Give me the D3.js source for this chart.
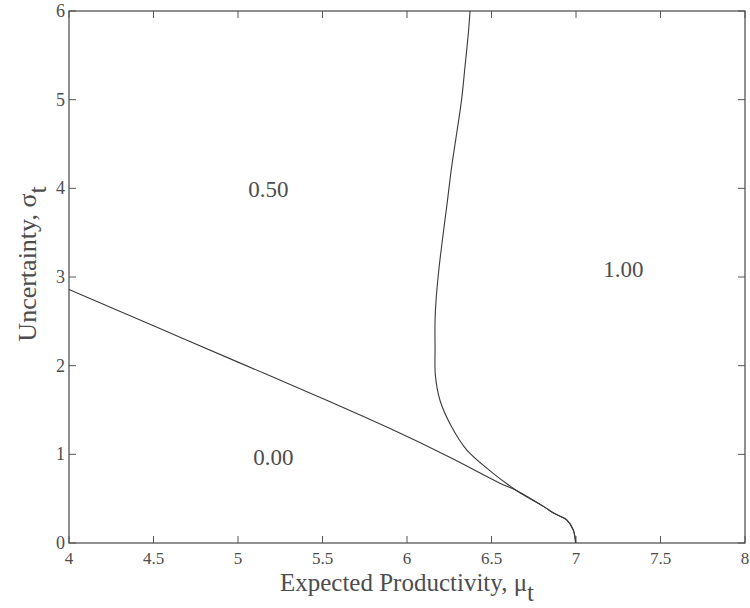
<!DOCTYPE html>
<html>
<head>
<meta charset="utf-8">
<script src="https://cdn.jsdelivr.net/npm/d3@7"></script>
<style>
  body { margin: 0; background: #fff; }
  text { font-family: "Liberation Serif", "Times New Roman", serif; fill: #4d4d4d; }
</style>
</head>
<body>
<div id="chart"></div>
<script>

// boundary between 0.00 and 0.50 regions (mu, sigma)
var lowerMu    = [4.00, 4.50, 5.00, 5.50, 5.90, 6.25, 6.55, 6.65, 6.81, 6.87, 6.945, 6.984, 6.998]
var lowerSigma = [2.86, 2.45, 2.04, 1.63, 1.29, 0.97, 0.675, 0.59, 0.41, 0.335, 0.26, 0.147, 0.0]

// boundary between 0.50 and 1.00 regions
var upperMu    = [6.373, 6.363, 6.343, 6.323, 6.294, 6.264, 6.240, 6.215, 6.190, 6.172, 6.166, 6.166, 6.168, 6.195, 6.264, 6.353, 6.510, 6.65, 6.81, 6.87, 6.945, 6.984, 6.998]
var upperSigma = [6.00, 5.75, 5.37, 5.00, 4.62, 4.24, 3.87, 3.50, 3.11, 2.74, 2.51, 2.20, 1.89, 1.61, 1.31, 1.05, 0.786, 0.59, 0.41, 0.335, 0.26, 0.147, 0.0]

var regionLabels = ["0.00", "0.50", "1.00"]
var regionMu     = [5.21, 5.18, 7.28]
var regionSigma  = [0.88, 3.90, 3.00]

var xTicks = [4, 4.5, 5, 5.5, 6, 6.5, 7, 7.5, 8]
var yTicks = [0, 1, 2, 3, 4, 5, 6]

var width = 750, height = 608
var margin = {left: 69, right: 5, top: 11, bottom: 65}

var svg = d3.select("#chart").append("svg")
  .attr("width", width)
  .attr("height", height)

var x = d3.scaleLinear().domain([4, 8]).range([margin.left, width - margin.right])
var y = d3.scaleLinear().domain([0, 6]).range([height - margin.bottom, margin.top])

var axisColor = "#555"
var tickLen = 7

// frame
svg.append("rect")
  .attr("x", x(4))
  .attr("y", y(6))
  .attr("width", x(8) - x(4))
  .attr("height", y(0) - y(6))
  .attr("fill", "none")
  .attr("stroke", axisColor)
  .attr("stroke-width", 1.3)

// inward ticks on all four sides
var ticks = svg.append("g").attr("stroke", axisColor).attr("stroke-width", 1)
xTicks.forEach(function (t) {
  ticks.append("line").attr("x1", x(t)).attr("x2", x(t)).attr("y1", y(0)).attr("y2", y(0) - tickLen)
  ticks.append("line").attr("x1", x(t)).attr("x2", x(t)).attr("y1", y(6)).attr("y2", y(6) + tickLen)
})
yTicks.forEach(function (t) {
  ticks.append("line").attr("x1", x(4)).attr("x2", x(4) + tickLen).attr("y1", y(t)).attr("y2", y(t))
  ticks.append("line").attr("x1", x(8)).attr("x2", x(8) - tickLen).attr("y1", y(t)).attr("y2", y(t))
})

svg.append("g").selectAll("text")
  .data(xTicks)
  .join("text")
  .attr("x", d => x(d))
  .attr("y", y(0) + 21)
  .attr("text-anchor", "middle")
  .attr("font-size", 17)
  .text(d => d)

svg.append("g").selectAll("text")
  .data(yTicks)
  .join("text")
  .attr("x", x(4) - 4)
  .attr("y", d => y(d) + 6)
  .attr("text-anchor", "end")
  .attr("font-size", 18)
  .text(d => d)

// curves
var line = d3.line()
  .x(d => x(d[0]))
  .y(d => y(d[1]))
  .curve(d3.curveCatmullRom)

var curves = [d3.zip(lowerMu, lowerSigma), d3.zip(upperMu, upperSigma)]

svg.append("g").selectAll("path")
  .data(curves)
  .join("path")
  .attr("d", line)
  .attr("fill", "none")
  .attr("stroke", "#3a3a3a")
  .attr("stroke-width", 1.1)

// region labels
svg.append("g").selectAll("text")
  .data(regionLabels)
  .join("text")
  .attr("x", (d, i) => x(regionMu[i]))
  .attr("y", (d, i) => y(regionSigma[i]))
  .attr("text-anchor", "middle")
  .attr("font-size", 23)
  .text(d => d)

// axis titles
var xt = svg.append("text")
  .attr("x", (x(4) + x(8)) / 2)
  .attr("y", 591)
  .attr("text-anchor", "middle")
  .attr("font-size", 25)
xt.append("tspan").text("Expected Productivity, \u03bc")
xt.append("tspan").attr("dy", 10).text("t")

var yt = svg.append("text")
  .attr("transform", "translate(36,264) rotate(-90)")
  .attr("text-anchor", "middle")
  .attr("font-size", 26)
yt.append("tspan").text("Uncertainty, \u03c3")
yt.append("tspan").attr("dy", 10).text("t")

</script>
</body>
</html>
